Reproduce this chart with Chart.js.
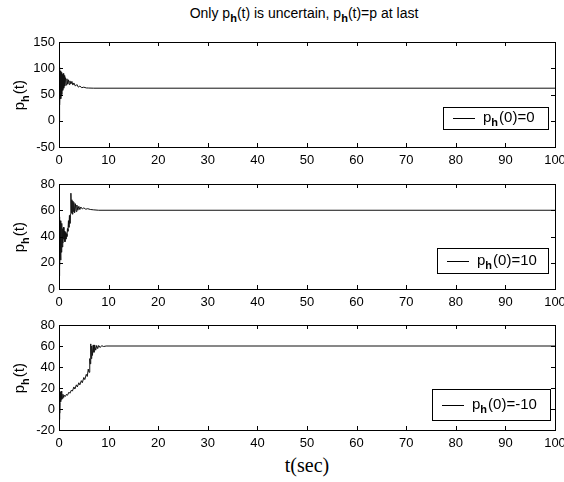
<!DOCTYPE html>
<html>
<head>
<meta charset="utf-8">
<script src="https://cdn.jsdelivr.net/npm/chart.js@4.4.0/dist/chart.umd.min.js"></script>
<style>
    body { margin: 0; background: #fff; width: 564px; height: 482px; overflow: hidden; position: relative;
           font-family: 'Liberation Sans', Arial, sans-serif; color: #000; }
    .panel { position: absolute; left: 0; }
    #title { position: absolute; top: 5px; left: 0; width: 608px; text-align: center; font-size: 14px; }
    #title sub { font-size: 11px; font-weight: bold; vertical-align: -4px; line-height: 0; }
    #xlabel { position: absolute; top: 454px; left: 0; width: 614px; text-align: center;
              font-family: 'Liberation Serif', 'Times New Roman', serif; font-size: 20px; }
</style>
</head>
<body>
<div id="title">Only p<sub>h</sub>(t) is uncertain, p<sub>h</sub>(t)=p at last</div>
<canvas id="chartTop" class="panel" width="564" height="137" style="top:32px"></canvas>
<canvas id="chartMid" class="panel" width="564" height="137" style="top:174px"></canvas>
<canvas id="chartBot" class="panel" width="564" height="137" style="top:315px"></canvas>
<div id="xlabel">t(sec)</div>
<script>
// [t, p_h(t)] for the three initial guesses
const seriesInit0 = [
    [0, 0], [0.05, 55], [0.1, 102], [0.2, 30], [0.3, 95], [0.35, 42], [0.45, 92], [0.55, 50],
    [0.65, 88], [0.75, 58], [0.85, 90], [0.95, 62], [1.05, 86], [1.15, 66], [1.3, 82], [1.45, 68],
    [1.6, 80], [1.75, 70], [1.9, 78], [2.05, 69], [2.2, 76], [2.4, 70], [2.6, 75], [2.8, 68],
    [3.0, 72], [3.3, 66], [3.6, 69], [3.9, 64], [4.2, 66], [4.6, 63], [5.0, 64], [5.5, 62.5],
    [6.0, 62.3], [7.0, 62], [100, 62]
];
const seriesInit10 = [
    [0, 10], [0.08, 55], [0.16, 18], [0.24, 52], [0.32, 22], [0.4, 48], [0.48, 28], [0.56, 50],
    [0.64, 32], [0.72, 46], [0.8, 35], [0.9, 47], [1.0, 38], [1.1, 44], [1.2, 36], [1.3, 43],
    [1.4, 38], [1.5, 42], [1.6, 40], [1.7, 46], [1.8, 44], [1.9, 52], [2.0, 47], [2.1, 56],
    [2.2, 50], [2.3, 57], [2.4, 73], [2.5, 58], [2.6, 68], [2.7, 57], [2.8, 67], [2.9, 59],
    [3.0, 66], [3.15, 58], [3.3, 65], [3.45, 59], [3.6, 64], [3.8, 60], [4.0, 63], [4.2, 60.5],
    [4.4, 62.5], [4.7, 61], [5.0, 61.8], [5.4, 60.8], [5.8, 61.2], [6.3, 60.6], [7.0, 60.3],
    [8.0, 60], [100, 60]
];
const seriesInitMinus10 = [
    [0, -10], [0.1, 6], [0.18, -4], [0.26, 16], [0.34, 7], [0.42, 17], [0.5, 9], [0.6, 15],
    [0.7, 10], [0.8, 14], [0.95, 11], [1.1, 13], [1.3, 12], [1.5, 14], [1.7, 13], [2.0, 16],
    [2.2, 15], [2.5, 18], [2.7, 17], [3.0, 21], [3.2, 19], [3.5, 23], [3.7, 21], [4.0, 25],
    [4.2, 23], [4.5, 27], [4.7, 25], [5.0, 30], [5.2, 28], [5.5, 33], [5.7, 31], [5.9, 38],
    [6.05, 35], [6.2, 48], [6.3, 43], [6.4, 62], [6.5, 48], [6.6, 60], [6.75, 51], [6.9, 61],
    [7.05, 54], [7.2, 61], [7.4, 56], [7.6, 60.5], [7.8, 57.5], [8.0, 60.5], [8.3, 58.5],
    [8.6, 60.3], [9.0, 59.5], [9.5, 60], [100, 60]
];

const timeTicks = [0, 10, 20, 30, 40, 50, 60, 70, 80, 90, 100];
const ticksTop = [-50, 0, 50, 100, 150];
const ticksMid = [0, 20, 40, 60, 80];
const ticksBot = [-20, 0, 20, 40, 60, 80];
const legendLabels = ['(0)=0', '(0)=10', '(0)=-10'];

const FONT = "'Liberation Sans', Arial, sans-serif";

// draws "p" with a subscript "h" followed by the rest, starting at x (baseline y)
function drawSubText(ctx, x, y, rest, size) {
    ctx.font = size + 'px ' + FONT;
    ctx.fillText('p', x, y);
    x += ctx.measureText('p').width;
    ctx.font = 'bold ' + Math.round(size * 0.75) + 'px ' + FONT;
    ctx.fillText('h', x, y + size * 0.3);
    x += ctx.measureText('h').width + 1;
    ctx.font = size + 'px ' + FONT;
    ctx.fillText(rest, x, y);
}

// box frame, inward ticks on all sides, y title and legend
const framePlugin = {
    id: 'frame',
    afterDraw(chart, args, opts) {
        const { ctx, chartArea: a, scales: { x, y } } = chart;
        ctx.save();
        ctx.strokeStyle = '#000';
        ctx.fillStyle = '#000';
        ctx.lineWidth = 1;
        ctx.strokeRect(a.left + 0.5, a.top + 0.5, a.right - a.left, a.bottom - a.top);

        const len = 4;
        ctx.beginPath();
        x.ticks.forEach(t => {
            const px = Math.round(x.getPixelForValue(t.value)) + 0.5;
            ctx.moveTo(px, a.bottom); ctx.lineTo(px, a.bottom - len);
            ctx.moveTo(px, a.top); ctx.lineTo(px, a.top + len);
        });
        y.ticks.forEach(t => {
            const py = Math.round(y.getPixelForValue(t.value)) + 0.5;
            ctx.moveTo(a.left, py); ctx.lineTo(a.left + len, py);
            ctx.moveTo(a.right, py); ctx.lineTo(a.right - len, py);
        });
        ctx.stroke();

        // y title, rotated
        ctx.save();
        ctx.translate(24, (a.top + a.bottom) / 2);
        ctx.rotate(-Math.PI / 2);
        ctx.textBaseline = 'alphabetic';
        ctx.font = '15px ' + FONT;
        const w = ctx.measureText('p(t)').width + 9;
        drawSubText(ctx, -w / 2, 0, '(t)', 15);
        ctx.restore();

        // legend box
        const b = opts.box;
        const bx = b.left, by = a.top + b.top;
        ctx.fillStyle = '#fff';
        ctx.fillRect(bx, by, b.width, b.height);
        ctx.strokeRect(bx + 0.5, by + 0.5, b.width, b.height);
        const midY = Math.round(by + b.height / 2) + 0.5;
        ctx.beginPath();
        ctx.moveTo(bx + 10, midY);
        ctx.lineTo(bx + 32, midY);
        ctx.stroke();
        ctx.fillStyle = '#000';
        ctx.textBaseline = 'alphabetic';
        drawSubText(ctx, bx + 40, midY + 3, opts.label, 15);
        ctx.restore();
    }
};

function makePanel(id, points, yTicks, label, box) {
    new Chart(document.getElementById(id), {
        type: 'line',
        data: {
            datasets: [{
                data: points.map(p => ({ x: p[0], y: p[1] })),
                borderColor: '#111',
                borderWidth: 1,
                pointRadius: 0,
                tension: 0,
                fill: false
            }]
        },
        options: {
            responsive: false,
            animation: false,
            layout: { padding: { top: 10, right: 9, left: 0, bottom: 0 } },
            plugins: {
                legend: { display: false },
                tooltip: { enabled: false },
                frame: { label: label, box: box }
            },
            scales: {
                x: {
                    type: 'linear',
                    min: timeTicks[0],
                    max: timeTicks[timeTicks.length - 1],
                    afterBuildTicks: s => { s.ticks = timeTicks.map(v => ({ value: v })); },
                    afterFit: s => { s.height = 22; s.paddingLeft = 0; s.paddingRight = 0; },
                    grid: { display: false, drawTicks: false },
                    border: { display: false },
                    ticks: { color: '#000', font: { family: FONT, size: 13 }, padding: 6, maxRotation: 0, autoSkip: false }
                },
                y: {
                    min: yTicks[0],
                    max: yTicks[yTicks.length - 1],
                    afterBuildTicks: s => { s.ticks = yTicks.map(v => ({ value: v })); },
                    afterFit: s => { s.width = 59; s.paddingTop = 0; s.paddingBottom = 0; },
                    grid: { display: false, drawTicks: false },
                    border: { display: false },
                    ticks: { color: '#000', font: { family: FONT, size: 13 }, padding: 4, autoSkip: false }
                }
            }
        },
        plugins: [framePlugin]
    });
}

makePanel('chartTop', seriesInit0, ticksTop, legendLabels[0], { left: 443, top: 65, width: 105, height: 22 });
makePanel('chartMid', seriesInit10, ticksMid, legendLabels[1], { left: 437, top: 64, width: 111, height: 25 });
makePanel('chartBot', seriesInitMinus10, ticksBot, legendLabels[2], { left: 432, top: 64, width: 118, height: 31 });
</script>
</body>
</html>
